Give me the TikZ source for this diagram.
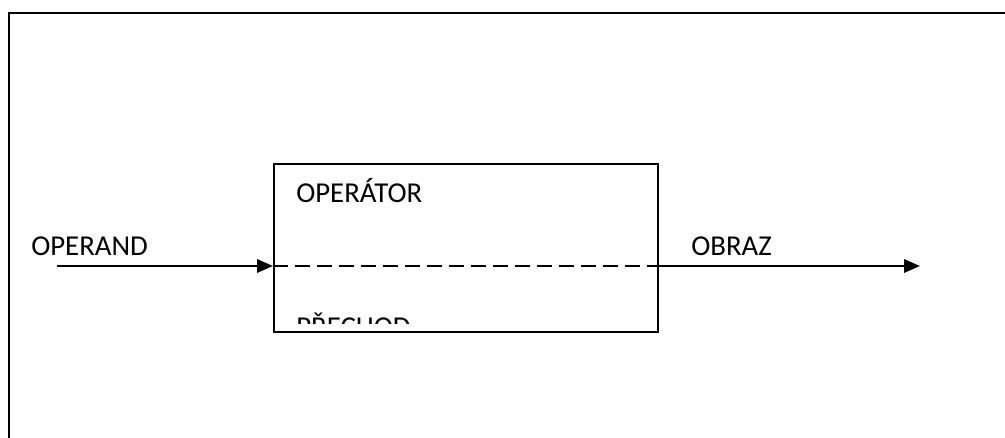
\documentclass[tikz,border=0pt]{standalone}
\usepackage{fontspec}
\setmainfont{Carlito}
\usetikzlibrary{arrows.meta}

\tikzset{
	label/.style={anchor=base west, inner sep=0pt, font=\fontsize{21.6}{26}\selectfont},
	flow/.style={line width=1.7pt, -{Triangle[length=12pt,width=10pt]}},
}

\begin{document}
\begin{tikzpicture}[x={(0.75pt,0)}, y={(0,-0.75pt)}]
			\useasboundingbox (0,0) rectangle (1005,438);
			% frame
			\draw[line width=1.8pt] (9,438) -- (9,13) -- (1005,13);
			% operator box
			\node[draw, line width=1.7pt, minimum width=384*0.75pt, minimum height=168*0.75pt,
				inner sep=0pt, anchor=north west] (op) at (273,163) {};
			\coordinate (in) at (57,266);
			\coordinate (out) at (920,266);
			\draw[flow] (in) -- (op.west |- in);
			\draw[line width=1.4pt, dash pattern=on 11.5pt off 5pt]
				(op.west |- in) -- (op.east |- in);
			\draw[flow] (op.east |- in) -- (out);
			% texts
			\node[label] (operand) at (31,255) {OPERAND};
			\node[label] (obraz) at (691,255) {OBRAZ};
			\node[label] (operator) at (296,203) {OPERÁTOR};
			\begin{scope}
				\clip (273,163) rectangle (657,323);
				\node[label] (prechod) at (296,336) {PŘECHOD};
			\end{scope}
		\end{tikzpicture}
\end{document}
